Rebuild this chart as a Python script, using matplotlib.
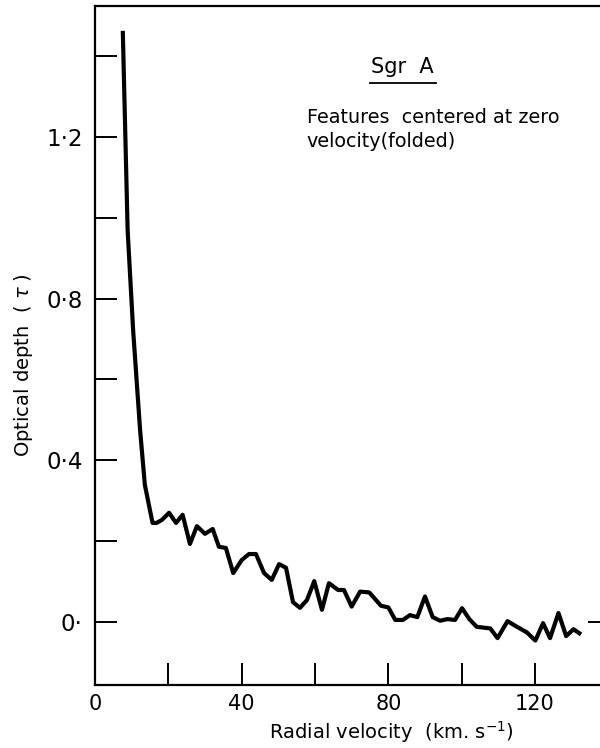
import matplotlib
matplotlib.use('Agg')
import matplotlib.pyplot as plt

# folded absorption profile
velocity = [7.6, 8.9, 10.4, 12.3, 13.6, 15.7, 16.8, 18.2, 20.2, 22.1, 23.9, 25.9,
            27.8, 30.0, 32.1, 33.8, 35.7, 37.7, 40.0, 42.0, 43.9, 46.1, 48.2, 50.2,
            52.1, 54.0, 55.9, 57.8, 59.8, 61.9, 63.8, 66.3, 67.9, 70.0, 72.3, 74.8,
            78.0, 80.0, 81.9, 84.0, 85.9, 87.9, 90.0, 92.1, 94.1, 96.1, 98.2, 100.1,
            102.1, 104.1, 107.8, 109.8, 112.5, 115.1, 117.8, 120.1, 122.2, 124.1,
            126.4, 128.5, 130.5, 132.1]
tau = [1.457, 0.970, 0.722, 0.475, 0.339, 0.245, 0.245, 0.252, 0.270, 0.245, 0.265, 0.193,
       0.237, 0.218, 0.230, 0.186, 0.183, 0.121, 0.153, 0.168, 0.168, 0.121, 0.104, 0.143,
       0.134, 0.049, 0.035, 0.054, 0.101, 0.030, 0.096, 0.079, 0.079, 0.038, 0.075, 0.073,
       0.040, 0.036, 0.005, 0.005, 0.017, 0.012, 0.063, 0.012, 0.003, 0.007, 0.005, 0.034,
       0.007, -0.012, -0.016, -0.040, 0.002, -0.012, -0.026, -0.046, -0.003, -0.040,
       0.022, -0.035, -0.018, -0.028]

x_ticks = [20, 40, 60, 80, 100, 120]
x_label_pos = [0, 40, 80, 120]
x_label_txt = ['0', '40', '80', '120']
y_ticks = [0.0, 0.2, 0.4, 0.6, 0.8, 1.0, 1.2, 1.4]
y_tick_txt = ['0\u00b7', '', '0\u00b74', '', '0\u00b78', '', '1\u00b72', '']

plt.rcParams['font.family'] = ['DejaVu Sans']

fig = plt.figure(figsize=(6, 7.48), dpi=100)
ax = fig.add_axes([0.1583, 0.0842, 0.8617, 0.908])

ax.plot(velocity, tau, color='black', lw=3.0, solid_joinstyle='round')

ax.set_xlim(0, 141)
ax.set_ylim(-0.156, 1.524)

for s in ['left', 'bottom', 'top']:
    ax.spines[s].set_linewidth(1.6)
ax.spines['right'].set_visible(False)
# lone tick on the (cropped) right-hand axis at zero
ax.axhline(0, xmin=0.955, xmax=1.0, color='black', lw=1.4)

ax.set_xticks(x_ticks)
ax.set_xticklabels([])
ax.tick_params(axis='x', direction='in', length=16, width=1.4, pad=6)
ax.set_yticks(y_ticks)
ax.set_yticklabels(y_tick_txt, fontsize=16.5)
ax.tick_params(axis='y', direction='in', length=16, width=1.4, pad=9)

for v, t in zip(x_label_pos, x_label_txt):
    ax.text(v, -0.177, t, ha='center', va='top', fontsize=15)

ax.set_xlabel('Radial velocity  (km. s$^{\\mathregular{-1}}$)', fontsize=14)
ax.xaxis.set_label_coords(0.574, -0.050)
ax.set_ylabel('Optical depth  ( $\\tau$ )', fontsize=14)
ax.yaxis.set_label_coords(-0.116, 0.471)

ax.text(83.8, 1.373, 'Sgr  A', ha='center', va='center', fontsize=15)
ax.plot([75.0, 93.0], [1.333, 1.333], color='black', lw=1.3)
ax.text(57.8, 1.271, 'Features  centered at zero\nvelocity(folded)',
        ha='left', va='top', fontsize=13.8, linespacing=1.3)

fig.savefig('out.png', dpi=100)
